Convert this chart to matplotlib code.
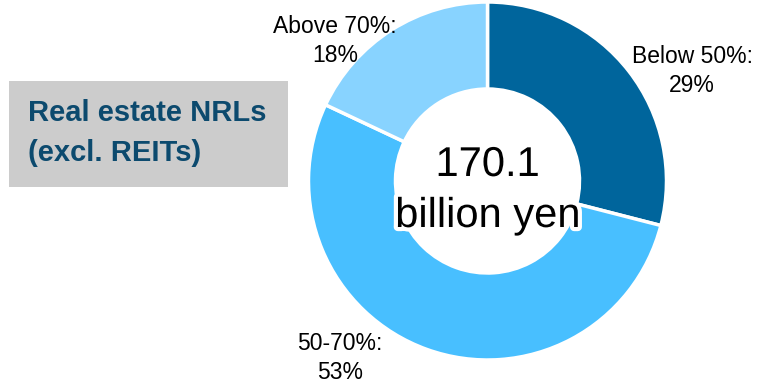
import matplotlib.pyplot as plt
import matplotlib.patheffects as pe
from matplotlib.patches import Rectangle

plt.rcParams['font.family'] = ['Liberation Sans', 'DejaVu Sans']

# data
categories = ["Below 50%", "50-70%", "Above 70%"]
shares = [29, 53, 18]
colors = ["#00659c", "#48bfff", "#88d3ff"]
total = "170.1"
unit = "billion yen"

W, H = 758, 385
fig = plt.figure(figsize=(W / 100, H / 100), dpi=100)
ax = fig.add_axes([0, 0, 1, 1])


def py(y):
    # pixel row (from top) to data y
    return H - y


cx, cy, r = 487.5, py(181), 179
ax.pie(shares, colors=colors, startangle=90, counterclock=False,
       center=(cx, cy), radius=r, frame=True,
       wedgeprops=dict(width=r - 92, edgecolor="white", linewidth=2.5))
ax.set_xlim(0, W)
ax.set_ylim(0, H)
ax.set_aspect("equal")
ax.axis("off")

# segment labels
label_pos = [(692, 71), (340, 358), (335, 41)]
for name, val, (lx, ly) in zip(categories, shares, label_pos):
    ax.text(lx, py(ly), f"{name}:\n{val}%", ha="center", va="center",
            fontsize=16.5, color="black", linespacing=1.3)

# total in the middle
halo = [pe.withStroke(linewidth=6, foreground="white")]
ax.text(cx, py(165), total, ha="center", va="center", fontsize=30, color="black",
        path_effects=halo)
ax.text(cx, py(216), unit, ha="center", va="center", fontsize=30, color="black",
        path_effects=halo)

# title box
ax.add_patch(Rectangle((9, py(187)), 279, 106, facecolor="#cccccc", edgecolor="none"))
ax.text(28, py(113), "Real estate NRLs", ha="left", va="center", fontsize=21,
        fontweight="bold", color="#0c4a6e")
ax.text(28, py(153), "(excl. REITs)", ha="left", va="center", fontsize=21,
        fontweight="bold", color="#0c4a6e")

fig.savefig("out.png", dpi=100)
